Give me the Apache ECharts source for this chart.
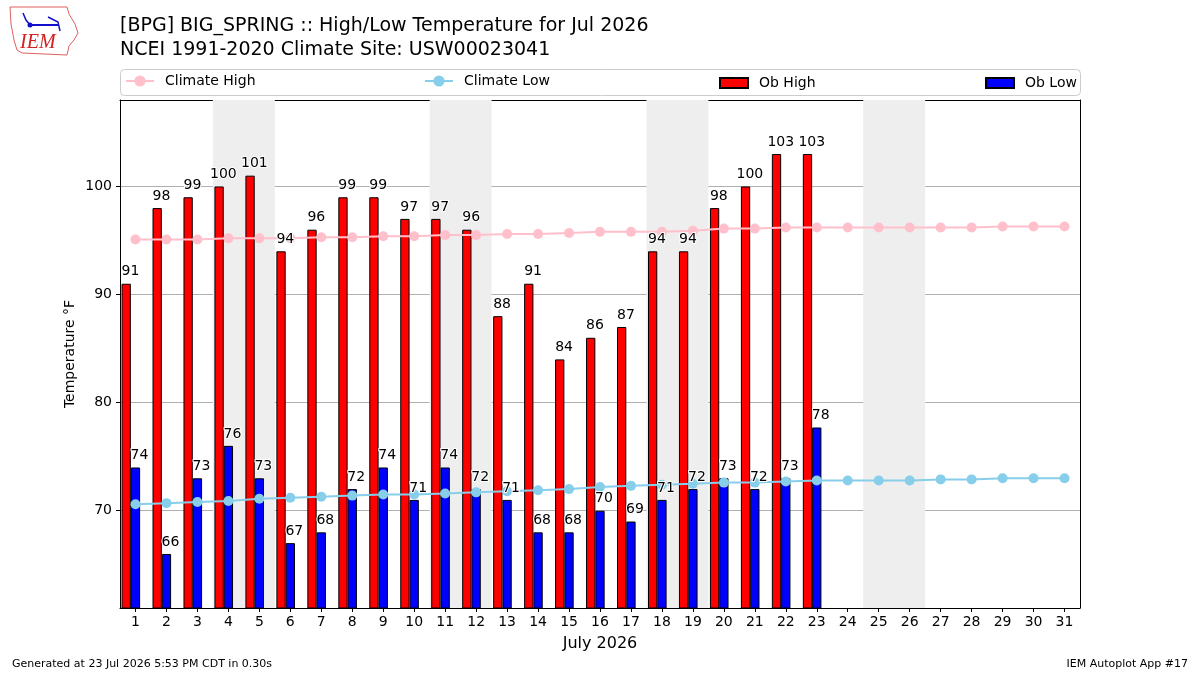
<!DOCTYPE html>
<html>
<head>
<meta charset="utf-8">
<script src="https://cdn.jsdelivr.net/npm/echarts@6/dist/echarts.min.js"></script>
<style>
  html, body { margin: 0; padding: 0; background: #fff; }
  #chart { width: 1200px; height: 675px; }
</style>
</head>
<body>
<div id="chart"></div>
<script>
// July 2026 days
const days = Array.from({ length: 31 }, (_, i) => String(i + 1));

// observed (days 1..23)
const obHigh = [91, 98, 99, 100, 101, 94, 96, 99, 99, 97, 97, 96, 88, 91, 84, 86, 87, 94, 94, 98, 100, 103, 103];
const obLow = [74, 66, 73, 76, 73, 67, 68, 72, 74, 71, 74, 72, 71, 68, 68, 70, 69, 71, 72, 73, 72, 73, 77.7];

// NCEI 1991-2020 daily normals
const climateHigh = [95.1, 95.1, 95.1, 95.2, 95.2, 95.2, 95.3, 95.3, 95.4, 95.4, 95.5, 95.5, 95.6, 95.6, 95.7, 95.8,
  95.8, 95.8, 95.9, 96.1, 96.1, 96.2, 96.2, 96.2, 96.2, 96.2, 96.2, 96.2, 96.3, 96.3, 96.3];
const climateLow = [70.6, 70.7, 70.8, 70.9, 71.1, 71.2, 71.3, 71.4, 71.5, 71.5, 71.6, 71.7, 71.8, 71.9, 72.0, 72.2,
  72.3, 72.4, 72.5, 72.6, 72.6, 72.7, 72.8, 72.8, 72.8, 72.8, 72.9, 72.9, 73.0, 73.0, 73.0];

// weekend days get shaded
const weekendDays = [4, 5, 11, 12, 18, 19, 25, 26];

const FONT = 'DejaVu Sans';

// merge consecutive weekend days into one shaded span
const weekendSpans = [];
weekendDays.forEach(d => {
  const last = weekendSpans[weekendSpans.length - 1];
  if (last && last[1] === d - 1) last[1] = d;
  else weekendSpans.push([d, d]);
});

const chart = echarts.init(document.getElementById('chart'));

// value labels drawn by a symbol-less scatter so they sit above the climate lines
const labelSeries = (name, data, dx) => ({
  name: name,
  type: 'scatter',
  data: data,
  symbolSize: 0,
  silent: true,
  z: 6,
  itemStyle: { opacity: 1 },
  label: {
    show: true,
    position: 'top',
    distance: 5,
    offset: [dx, 0],
    color: '#000',
    fontSize: 14,
    fontFamily: FONT,
    textBorderColor: '#fff',
    textBorderWidth: 2,
    formatter: p => Math.round(p.value)
  }
});

const legendBase = {
  top: 74,
  padding: 0,
  itemWidth: 28,
  itemHeight: 14,
  selectedMode: false,
  textStyle: { color: '#000', fontSize: 14, fontFamily: FONT, padding: [0, 0, 0, 6] }
};

const frameLine = { show: true, onZero: false, lineStyle: { color: '#000', width: 1 } };

const option = {
  animation: false,
  backgroundColor: '#fff',
  textStyle: { fontFamily: FONT },
  title: {
    text: '[BPG] BIG_SPRING :: High/Low Temperature for Jul 2026\nNCEI 1991-2020 Climate Site: USW00023041',
    left: 120,
    top: 14,
    padding: 0,
    textStyle: { color: '#000', fontSize: 19, fontWeight: 'normal', fontFamily: FONT, lineHeight: 24 }
  },
  legend: [
    Object.assign({}, legendBase, { left: 125, data: ['Climate High'] }),
    Object.assign({}, legendBase, { left: 424, data: ['Climate Low'] }),
    Object.assign({}, legendBase, { left: 719, itemHeight: 10, top: 76, data: [{ name: 'Ob High', icon: 'rect' }] }),
    Object.assign({}, legendBase, { left: 985, itemHeight: 10, top: 76, data: [{ name: 'Ob Low', icon: 'rect' }] })
  ],
  graphic: [
    // legend frame
    { type: 'rect', left: 120, top: 69, z: -1, shape: { width: 960, height: 26, r: 4 },
      style: { fill: '#fff', stroke: '#cccccc', lineWidth: 1 } },
    // IEM logo (rough)
    { type: 'polyline', z: 10, shape: { points: [[10, 7], [67, 7], [69, 14], [75, 24], [78, 33], [74, 40], [69, 46], [67, 55], [22, 53], [17, 50], [14, 40], [11, 24], [10, 7]] },
      style: { stroke: '#e06060', fill: null, lineWidth: 1 } },
    { type: 'polyline', z: 10, shape: { points: [[30, 25], [58, 25]] }, style: { stroke: '#1010cc', lineWidth: 2 } },
    { type: 'polyline', z: 10, shape: { points: [[23, 13], [26, 20], [30, 25]] }, style: { stroke: '#1010cc', lineWidth: 1.5, fill: null } },
    { type: 'polyline', z: 10, shape: { points: [[48, 17], [58, 22], [60, 31]] }, style: { stroke: '#1010cc', lineWidth: 1.5, fill: null } },
    { type: 'circle', z: 10, shape: { cx: 30, cy: 25, r: 2.5 }, style: { fill: '#1010cc' } },
    { type: 'text', z: 10, left: 20, top: 33, style: { text: 'IEM', fill: '#d02020', fontSize: 20, fontStyle: 'italic', fontFamily: 'Liberation Serif' } },
    // footer
    { type: 'text', left: 12, top: 659, style: { text: 'Generated at 23 Jul 2026 5:53 PM CDT in 0.30s', fill: '#000', fontSize: 11, fontFamily: FONT } },
    { type: 'text', right: 12, top: 659, style: { text: 'IEM Autoplot App #17', fill: '#000', fontSize: 11, fontFamily: FONT, align: 'right' } }
  ],
  grid: {
    left: 120,
    right: 120,
    top: 100,
    bottom: 67,
    show: false
  },
  xAxis: [
    {
      type: 'category',
      data: days,
      boundaryGap: true,
      name: 'July 2026',
      nameLocation: 'middle',
      nameGap: 28,
      nameTextStyle: { color: '#000', fontSize: 16, fontFamily: FONT },
      axisLine: frameLine,
      axisTick: { show: true, alignWithLabel: true, length: 4, lineStyle: { color: '#000' } },
      axisLabel: { color: '#000', fontSize: 14, fontFamily: FONT, margin: 7, interval: 0 },
      splitLine: { show: false }
    },
    {
      // continuous helper axis: weekend shading + top frame edge
      type: 'value',
      min: 0.5,
      max: 31.5,
      position: 'top',
      axisLine: frameLine,
      axisTick: { show: false },
      axisLabel: { show: false },
      splitLine: { show: false }
    }
  ],
  yAxis: [
    {
      type: 'value',
      min: 61,
      max: 108,
      minInterval: 10,
      maxInterval: 10,
      name: 'Temperature °F',
      nameLocation: 'middle',
      nameGap: 43,
      nameMoveOverlap: false,
      nameTextStyle: { color: '#000', fontSize: 14, fontFamily: FONT },
      axisLine: frameLine,
      axisTick: { show: true, length: 4, lineStyle: { color: '#000' } },
      axisLabel: { color: '#000', fontSize: 14, fontFamily: FONT, margin: 8, showMinLabel: false, showMaxLabel: false },
      splitLine: { show: true, lineStyle: { color: '#b0b0b0', width: 1 } }
    },
    {
      // right frame edge
      type: 'value',
      min: 61,
      max: 108,
      position: 'right',
      axisLine: frameLine,
      axisTick: { show: false },
      axisLabel: { show: false },
      splitLine: { show: false }
    }
  ],
  series: [
    {
      name: 'weekend',
      type: 'line',
      xAxisIndex: 1,
      data: [],
      silent: true,
      z: 0,
      markArea: {
        silent: true,
        itemStyle: { color: '#eeeeee' },
        data: weekendSpans.map(s => [{ xAxis: s[0] - 0.5 }, { xAxis: s[1] + 0.5 }])
      }
    },
    {
      name: 'Ob High',
      type: 'bar',
      data: obHigh,
      barWidth: '30%',
      barGap: '0%',
      z: 2,
      itemStyle: { color: '#ff0000', borderColor: '#000', borderWidth: 1 }
    },
    {
      name: 'Ob Low',
      type: 'bar',
      data: obLow,
      barWidth: '30%',
      barGap: '0%',
      z: 2,
      itemStyle: { color: '#0000ff', borderColor: '#000', borderWidth: 1 }
    },
    {
      // empty slot so the high/low pair sits left of the day tick
      name: 'pad',
      type: 'bar',
      data: [],
      barWidth: '30%',
      barGap: '0%',
      silent: true
    },
    {
      name: 'Climate High',
      type: 'line',
      data: climateHigh,
      z: 3,
      symbol: 'circle',
      symbolSize: 10,
      lineStyle: { color: '#ffc0cb', width: 2 },
      itemStyle: { color: '#ffc0cb' }
    },
    {
      name: 'Climate Low',
      type: 'line',
      data: climateLow,
      z: 3,
      symbol: 'circle',
      symbolSize: 10,
      lineStyle: { color: '#87ceeb', width: 2 },
      itemStyle: { color: '#87ceeb' }
    },
    labelSeries('Ob High label', obHigh, -5),
    labelSeries('Ob Low label', obLow, 4)
  ]
};

chart.setOption(option);
window.addEventListener('resize', () => chart.resize());
</script>
</body>
</html>
